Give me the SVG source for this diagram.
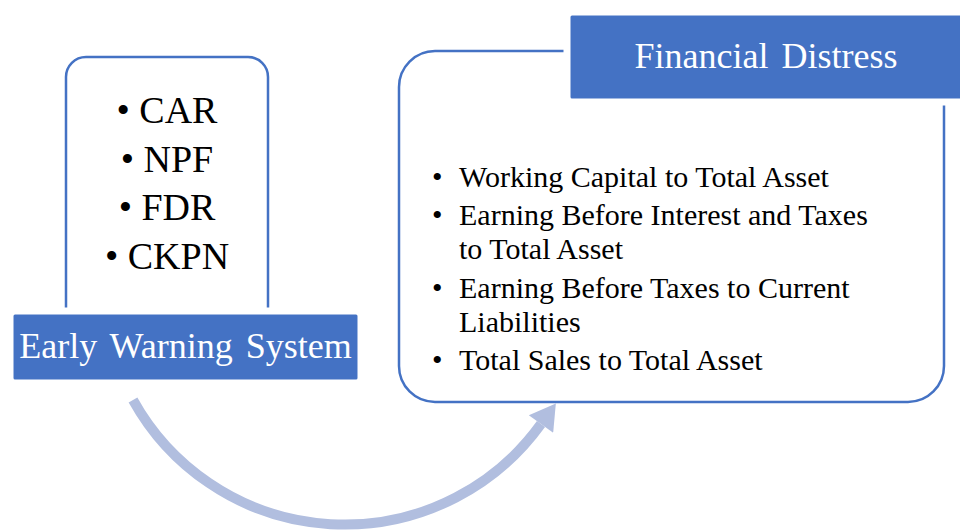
<svg xmlns="http://www.w3.org/2000/svg" width="960" height="530" viewBox="0 0 960 530">
  <style>
    text { font-family: 'Liberation Serif', 'DejaVu Serif', serif; }
    .frame { fill: #ffffff; stroke: #4472C4; stroke-width: 2.5; }
    .label { fill: #4472C4; stroke: #ffffff; stroke-width: 7; }
    .title { fill: #ffffff; text-anchor: middle; font-size: 36px; word-spacing: 4px; }
    .item { fill: #000000; }
    .flow { fill: none; stroke: #B1BEDF; stroke-width: 10; }
  </style>
  <defs>
    <marker id="head" markerUnits="userSpaceOnUse" markerWidth="30" markerHeight="30" viewBox="0 0 22 26" refX="0" refY="13" orient="auto">
      <path d="M0,0 L22,13 L0,26 z" fill="#B1BEDF"/>
    </marker>
  </defs>
  <rect width="960" height="530" fill="#ffffff"/>

  <!-- curved flow arrow from the left node to the right node -->
  <g id="connectors">
    <path class="flow" d="M 133 400 A 242 242 0 0 0 541 424" marker-end="url(#head)"/>
  </g>

  <!-- left node: indicator list with its caption -->
  <g id="early-warning-system">
    <rect class="frame" x="66" y="57" width="202" height="290" rx="20" ry="20"/>
    <g class="item" font-size="38" text-anchor="middle">
      <text x="167" y="123">• CAR</text>
      <text x="167" y="171.5">• NPF</text>
      <text x="167" y="220">• FDR</text>
      <text x="167" y="268.5">• CKPN</text>
    </g>
    <rect class="label" x="10" y="311" width="351" height="72" rx="5" ry="5"/>
    <text class="title" x="185.5" y="358">Early Warning System</text>
  </g>

  <!-- right node: ratio list with its caption -->
  <g id="financial-distress">
    <rect class="frame" x="399" y="51" width="545" height="351" rx="36" ry="36"/>
    <rect class="label" x="567" y="12" width="410" height="90" rx="5" ry="5"/>
    <text class="title" x="766" y="68">Financial Distress</text>
    <g class="item" font-size="30">
      <text x="432" y="187">•</text>
      <text x="459" y="187">Working Capital to Total Asset</text>
      <text x="432" y="225">•</text>
      <text x="459" y="225">Earning Before Interest and Taxes</text>
      <text x="459" y="259">to Total Asset</text>
      <text x="432" y="298">•</text>
      <text x="459" y="298">Earning Before Taxes to Current</text>
      <text x="459" y="332">Liabilities</text>
      <text x="432" y="370">•</text>
      <text x="459" y="370">Total Sales to Total Asset</text>
    </g>
  </g>
</svg>
